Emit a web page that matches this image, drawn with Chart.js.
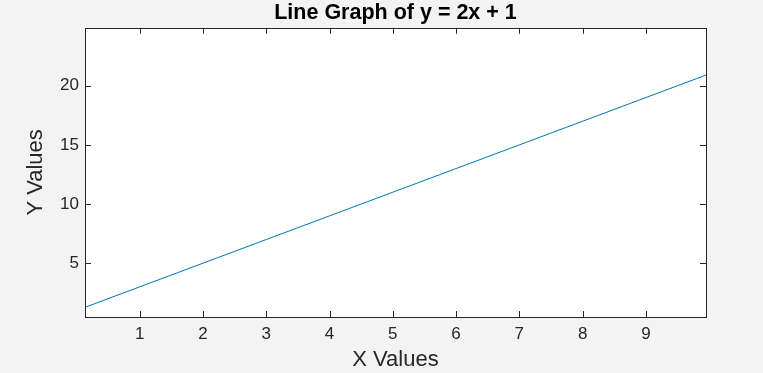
<!DOCTYPE html>
<html>
<head>
<meta charset="utf-8">
<script src="https://cdn.jsdelivr.net/npm/chart.js@4.4.1/dist/chart.umd.min.js"></script>
<style>
  html, body { margin: 0; padding: 0; background: #f3f3f3; }
  canvas { display: block; }
</style>
</head>
<body>
<canvas id="lineChart" width="763" height="373"></canvas>
<script>
// values
const xValues = [0.135, 1, 2, 3, 4, 5, 6, 7, 8, 9, 9.95];
const yValues = [1.27, 3, 5, 7, 9, 11, 13, 15, 17, 19, 20.9];
const xTicks = [1, 2, 3, 4, 5, 6, 7, 8, 9];
const yTicks = [5, 10, 15, 20];
const xRange = [0.135, 9.95];
const yRange = [0.45, 24.9];

const FONT = "'Liberation Sans', Arial, Helvetica, sans-serif";
const AXIS = "#262626";

// white plot area, box and inward ticks on all four sides (MATLAB look)
const boxTicks = {
  id: "boxTicks",
  afterLayout(chart) {
    // centre the title over the plot area, not the whole canvas
    const tb = chart.titleBlock;
    if (tb) {
      tb.left = chart.chartArea.left;
      tb.right = chart.chartArea.right;
      tb.width = tb.right - tb.left;
    }
  },
  beforeDraw(chart) {
    const { ctx, chartArea: a } = chart;
    ctx.save();
    ctx.fillStyle = "#ffffff";
    ctx.fillRect(a.left, a.top, a.right - a.left, a.bottom - a.top);
    ctx.restore();
  },
  afterDraw(chart) {
    const { ctx, chartArea: a, scales } = chart;
    const len = 6;
    ctx.save();
    ctx.strokeStyle = AXIS;
    ctx.lineWidth = 1;
    ctx.beginPath();
    scales.x.ticks.forEach((t) => {
      const px = Math.round(scales.x.getPixelForValue(t.value)) + 0.5;
      ctx.moveTo(px, a.bottom);
      ctx.lineTo(px, a.bottom - len);
      ctx.moveTo(px, a.top);
      ctx.lineTo(px, a.top + len);
    });
    scales.y.ticks.forEach((t) => {
      const py = Math.round(scales.y.getPixelForValue(t.value)) + 0.5;
      ctx.moveTo(a.left, py);
      ctx.lineTo(a.left + len, py);
      ctx.moveTo(a.right, py);
      ctx.lineTo(a.right - len, py);
    });
    ctx.stroke();
    ctx.strokeRect(Math.round(a.left) + 0.5, Math.round(a.top) + 0.5,
      Math.round(a.right - a.left), Math.round(a.bottom - a.top));
    ctx.restore();
  },
};

document.addEventListener("DOMContentLoaded", () => {
  const ctx = document.getElementById("lineChart").getContext("2d");

  new Chart(ctx, {
    type: "line",
    data: {
      datasets: [
        {
          label: "y = 2x + 1",
          data: xValues.map((x, i) => ({ x: x, y: yValues[i] })),
          borderColor: "#0072bd",
          borderWidth: 1,
          pointRadius: 0,
          tension: 0,
          fill: false,
        },
      ],
    },
    options: {
      responsive: false,
      animation: false,
      layout: { padding: { left: 23, right: 57, top: 0, bottom: 0 } },
      plugins: {
        legend: { display: false },
        tooltip: { enabled: false },
        title: {
          display: true,
          text: "Line Graph of y = 2x + 1",
          color: "#000000",
          font: { family: FONT, size: 21.5, weight: "bold" },
          padding: { top: 0, bottom: 2 },
        },
      },
      scales: {
        x: {
          type: "linear",
          min: xRange[0],
          max: xRange[1],
          afterBuildTicks: (scale) => {
            scale.ticks = xTicks.map((v) => ({ value: v }));
          },
          afterFit: (scale) => {
            scale.height = 56;
          },
          grid: { display: false, drawTicks: false },
          border: { display: false },
          ticks: {
            color: AXIS,
            padding: 7,
            maxRotation: 0,
            font: { family: FONT, size: 17 },
          },
          title: {
            display: true,
            text: "X Values",
            color: AXIS,
            font: { family: FONT, size: 22 },
            padding: { top: 0, bottom: 0 },
          },
        },
        y: {
          type: "linear",
          min: yRange[0],
          max: yRange[1],
          afterBuildTicks: (scale) => {
            scale.ticks = yTicks.map((v) => ({ value: v }));
          },
          afterFit: (scale) => {
            scale.width = 62;
          },
          grid: { display: false, drawTicks: false },
          border: { display: false },
          ticks: {
            color: AXIS,
            padding: 6,
            font: { family: FONT, size: 17 },
          },
          title: {
            display: true,
            text: "Y Values",
            color: AXIS,
            font: { family: FONT, size: 22 },
            padding: { top: 0, bottom: 0 },
          },
        },
      },
    },
    plugins: [boxTicks],
  });
});
</script>
</body>
</html>
